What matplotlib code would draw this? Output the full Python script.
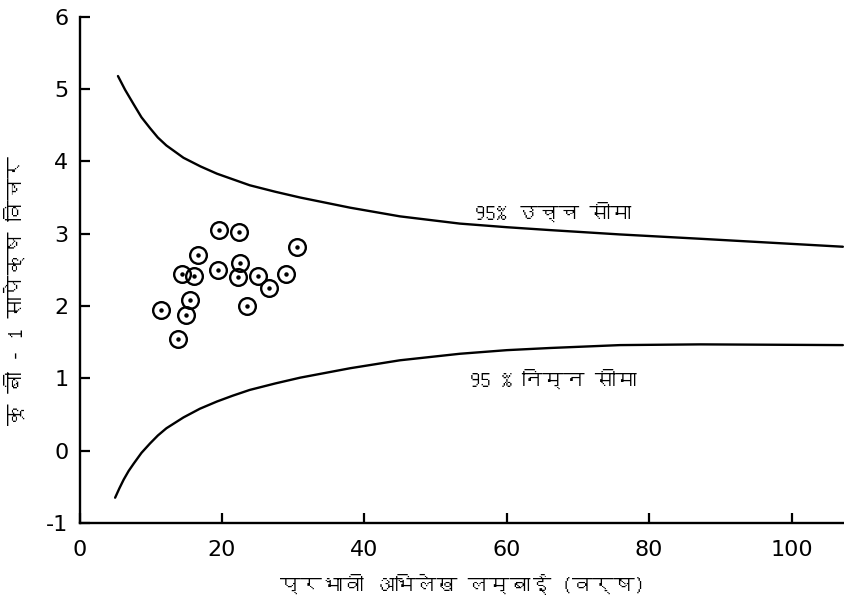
import matplotlib
matplotlib.use('Agg')
import matplotlib.pyplot as plt
from matplotlib import font_manager

# effective record length (years) and statistic for each station
rec_len = [19.6, 22.4, 30.6, 16.7, 19.5, 22.6, 14.4, 16.1, 22.3,
           25.1, 29.0, 26.6, 15.5, 11.4, 15.0, 23.5, 13.9]
stat = [3.05, 3.03, 2.82, 2.71, 2.50, 2.59, 2.44, 2.41, 2.40,
        2.41, 2.44, 2.25, 2.09, 1.94, 1.87, 2.00, 1.54]

# 95% upper limit
upper_x = [5.4, 6.4, 7.6, 8.7, 9.9, 11.0, 12.2, 14.6, 17.0, 19.3, 23.9, 27.5,
           31.0, 38.0, 45.0, 53.4, 60.0, 66.1, 75.9, 87.2, 107.2]
upper_y = [5.18, 4.99, 4.79, 4.61, 4.46, 4.33, 4.22, 4.05, 3.93, 3.83, 3.67, 3.58,
           3.50, 3.36, 3.24, 3.14, 3.09, 3.05, 2.99, 2.93, 2.82]

# 95% lower limit
lower_x = [5.0, 5.6, 6.2, 6.9, 7.6, 8.7, 9.9, 11.0, 12.2, 14.6, 16.9, 19.3,
           21.5, 23.9, 27.5, 31.0, 38.0, 45.0, 53.4, 60.0, 66.1, 75.9, 87.2, 107.2]
lower_y = [-0.65, -0.52, -0.40, -0.28, -0.18, -0.03, 0.10, 0.21, 0.31, 0.46,
           0.58, 0.68, 0.76, 0.84, 0.93, 1.01, 1.14, 1.25, 1.34, 1.39, 1.42, 1.46, 1.47, 1.46]

x_ticks = [0, 20, 40, 60, 80, 100]
y_ticks = [-1, 0, 1, 2, 3, 4, 5, 6]

x_label = 'प्रभावी अभिलेख लम्बाई (वर्ष)'
y_label = 'कू बी - 1 सापेक्ष विचर'
upper_label = '95% उच्च सीमा'
lower_label = '95 % निम्न सीमा'

plt.rcParams['axes.unicode_minus'] = False


def find_devanagari_family():
    # look for any installed font that has Devanagari glyphs
    for f in font_manager.fontManager.ttflist:
        try:
            cmap = font_manager.get_font(f.fname).get_charmap()
        except Exception:
            continue
        if 0x0915 in cmap:
            return f.name
    return None


deva = find_devanagari_family()
text_family = [deva, 'DejaVu Sans'] if deva else ['DejaVu Sans']

fig = plt.figure(figsize=(8.45, 6.11), dpi=100)
ax = fig.add_axes([0.0941, 0.144, 0.9059, 0.8286])

ax.plot(upper_x, upper_y, color='black', lw=1.7, solid_capstyle='round')
ax.plot(lower_x, lower_y, color='black', lw=1.7, solid_capstyle='round')

ax.plot(rec_len, stat, linestyle='none', marker='o', markersize=12,
        markerfacecolor='none', markeredgecolor='black', markeredgewidth=1.7)
ax.plot(rec_len, stat, linestyle='none', marker='o', markersize=2.2,
        color='black')

ax.text(55.5, 3.29, upper_label, fontsize=15, va='center', ha='left',
        family=text_family)
ax.text(54.8, 0.98, lower_label, fontsize=15, va='center', ha='left',
        family=text_family)

ax.set_xlim(0, 107.5)
ax.set_ylim(-1, 6)
ax.set_xticks(x_ticks)
ax.set_yticks(y_ticks)

for side in ['top', 'right']:
    ax.spines[side].set_visible(False)
for side in ['left', 'bottom']:
    ax.spines[side].set_linewidth(1.7)

ax.tick_params(axis='both', direction='in', length=7, width=1.6,
               labelsize=16)
ax.tick_params(axis='x', pad=12)
ax.tick_params(axis='y', pad=8)

ax.set_xlabel(x_label, fontsize=15, family=text_family, labelpad=10)
ax.set_ylabel(y_label, fontsize=15.5, family=text_family)
ax.yaxis.set_label_coords(-0.07, 0.46)

fig.savefig('out.png', dpi=100)
